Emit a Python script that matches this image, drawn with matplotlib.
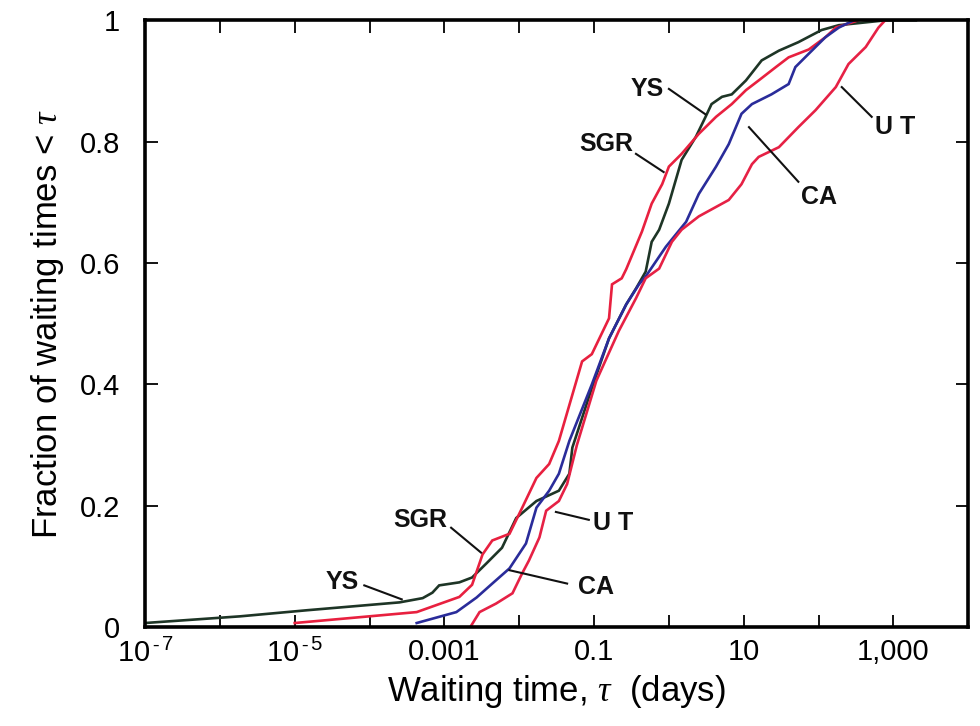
import numpy as np
import matplotlib
matplotlib.use("Agg")
import matplotlib.pyplot as plt
from matplotlib.ticker import FixedLocator, NullLocator

plt.rcParams['font.family'] = ['Liberation Sans', 'DejaVu Sans']
plt.rcParams['mathtext.fontset'] = 'custom'
plt.rcParams['mathtext.rm'] = 'Liberation Sans'
plt.rcParams['mathtext.it'] = 'Liberation Serif:italic'

# ---- data: log10(waiting time in days) and cumulative fraction ----
ys_logt = [-7.0, -5.73, -4.84, -3.6, -3.29, -3.16, -3.07, -2.8, -2.63, -2.44, -2.23, -2.04,
           -1.77, -1.47, -1.33, -1.29, -1.03, -0.8, -0.57, -0.44, -0.31, -0.23, -0.13, 0.0,
           0.17, 0.36, 0.49, 0.57, 0.71, 0.84, 1.03, 1.24, 1.47, 1.73, 2.04, 2.27, 2.89, 3.3]
ys_frac = [0.007, 0.018, 0.028, 0.041, 0.048, 0.057, 0.069, 0.074, 0.082, 0.105, 0.131, 0.18,
           0.208, 0.225, 0.253, 0.296, 0.394, 0.476, 0.532, 0.558, 0.586, 0.635, 0.655, 0.698,
           0.77, 0.808, 0.841, 0.862, 0.874, 0.878, 0.901, 0.934, 0.95, 0.964, 0.984, 0.992, 1.0, 1.0]

sgr_logt = [-5.0, -3.37, -2.8, -2.63, -2.49, -2.36, -2.13, -1.96, -1.77, -1.6, -1.47, -1.16,
            -1.03, -0.8, -0.76, -0.63, -0.57, -0.36, -0.23, -0.09, 0.0, 0.17, 0.4, 0.63, 0.84,
            1.03, 1.2, 1.43, 1.6, 1.87, 2.09, 2.23, 2.53]
sgr_frac = [0.007, 0.025, 0.05, 0.07, 0.12, 0.143, 0.154, 0.197, 0.246, 0.269, 0.307, 0.438,
            0.45, 0.509, 0.565, 0.575, 0.59, 0.652, 0.698, 0.73, 0.759, 0.78, 0.813, 0.841, 0.862,
            0.885, 0.901, 0.923, 0.939, 0.952, 0.972, 0.988, 1.0]

ca_logt = [-3.37, -2.84, -2.57, -2.36, -2.13, -1.91, -1.77, -1.6, -1.47, -1.33, -1.03, -0.8,
           -0.57, -0.4, -0.31, -0.04, 0.23, 0.4, 0.63, 0.8, 0.97, 1.11, 1.37, 1.6, 1.69, 1.91,
           2.09, 2.27, 2.47]
ca_frac = [0.007, 0.025, 0.049, 0.072, 0.097, 0.138, 0.197, 0.225, 0.253, 0.307, 0.40, 0.476,
           0.532, 0.565, 0.578, 0.627, 0.668, 0.714, 0.759, 0.796, 0.846, 0.862, 0.878, 0.895,
           0.923, 0.95, 0.972, 0.988, 1.0]

ut_logt = [-2.64, -2.53, -2.31, -2.09, -1.96, -1.87, -1.73, -1.64, -1.47, -1.36, -1.23, -0.97,
           -0.67, -0.44, -0.31, -0.13, 0.04, 0.17, 0.4, 0.8, 0.97, 1.11, 1.2, 1.47, 1.73, 1.96,
           2.23, 2.4, 2.63, 2.8, 2.89]
ut_frac = [0.003, 0.025, 0.039, 0.056, 0.089, 0.11, 0.148, 0.192, 0.208, 0.236, 0.30, 0.406,
           0.488, 0.542, 0.575, 0.591, 0.635, 0.655, 0.677, 0.704, 0.73, 0.763, 0.775, 0.791,
           0.824, 0.852, 0.89, 0.928, 0.956, 0.988, 1.0]

x_tick_logs = [-7, -6, -5, -4, -3, -2, -1, 0, 1, 2, 3]
x_tick_labels = [r'$\mathregular{10^{\,‑\,7}}$', '', r'$\mathregular{10^{\,‑\,5}}$', '', '0.001', '',
                 '0.1', '', '10', '', '1,000']
y_ticks = [0, 0.2, 0.4, 0.6, 0.8, 1.0]
y_tick_labels = ['0', '0.2', '0.4', '0.6', '0.8', '1']

series = [
    ('YS', ys_logt, ys_frac, '#1e3526'),
    ('SGR', sgr_logt, sgr_frac, '#e8203f'),
    ('CA', ca_logt, ca_frac, '#2a2c9a'),
    ('UT', ut_logt, ut_frac, '#e62145'),
]

fig = plt.figure(figsize=(9.8, 7.26), dpi=100)
ax = fig.add_axes([0.148, 0.136, 0.840, 0.836])

for name, lt, fr, col in series:
    ax.plot(10.0 ** np.array(lt), fr, color=col, lw=1.9, solid_joinstyle='miter')

ax.set_xscale('log')
ax.set_xlim(1e-7, 1e4)
ax.set_ylim(0, 1.0)

ax.xaxis.set_major_locator(FixedLocator([10.0 ** v for v in x_tick_logs]))
ax.xaxis.set_minor_locator(NullLocator())
ax.set_xticklabels(x_tick_labels)
ax.set_yticks(y_ticks)
ax.set_yticklabels(y_tick_labels)

ax.tick_params(axis='both', which='major', direction='in', length=9, width=1.3,
               top=True, right=True, labelsize=21)
ax.tick_params(axis='x', pad=8)
ax.tick_params(axis='y', pad=18)
for lab in ax.get_yticklabels():
    lab.set_fontweight('medium')
for sp in ax.spines.values():
    sp.set_linewidth(2.6)

ax.set_xlabel(r'Waiting time, $\tau$  (days)', fontsize=25, labelpad=4)
ax.set_ylabel(r'Fraction of waiting times < $\tau$', fontsize=25, labelpad=10)

# annotations: (text, text log-x, text y, line-start log-x, y, line-end log-x, y)
annots = [
    ('YS', -0.29, 0.887, 0.0, 0.887, 0.49, 0.845),
    ('SGR', -0.84, 0.796, -0.44, 0.78, -0.07, 0.75),
    ('CA', 2.01, 0.709, 1.73, 0.734, 1.07, 0.824),
    ('U T', 3.02, 0.824, 2.71, 0.841, 2.31, 0.89),
    ('YS', -4.37, 0.074, -4.07, 0.069, -3.57, 0.046),
    ('SGR', -3.32, 0.176, -2.91, 0.164, -2.51, 0.123),
    ('U T', -0.74, 0.172, -1.07, 0.177, -1.51, 0.19),
    ('CA', -0.97, 0.066, -1.36, 0.072, -2.13, 0.094),
]
for txt, tx, ty, sx, sy, ex, ey in annots:
    ax.text(10 ** tx, ty, txt, fontsize=18, fontweight='bold', ha='center', va='center',
            color='#111111')
    ax.plot([10 ** sx, 10 ** ex], [sy, ey], color='#111111', lw=1.5)

fig.savefig('out.png', dpi=100)
